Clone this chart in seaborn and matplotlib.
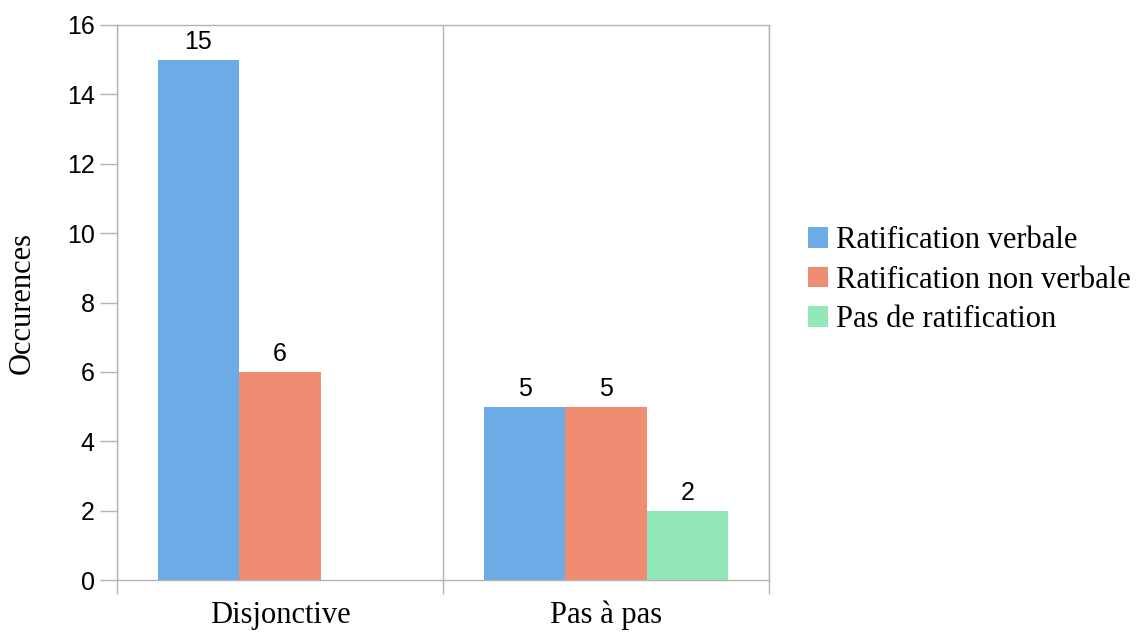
import pandas as pd
import seaborn as sns
import matplotlib.pyplot as plt
from matplotlib.patches import Patch

# Données
categories = ["Disjonctive", "Disjonctive", "Pas à pas", "Pas à pas", "Pas à pas"]
types = ["Ratification verbale", "Ratification non verbale",
         "Ratification verbale", "Ratification non verbale", "Pas de ratification"]
occurences = [15, 6, 5, 5, 2]

ordre_types = ["Ratification verbale", "Ratification non verbale", "Pas de ratification"]
couleurs = ["#6CABE6", "#EE8D72", "#93E8B8"]

df = pd.DataFrame({"categorie": categories, "type": types, "occurences": occurences})

sns.set_style("white")
plt.rcParams["font.family"] = ["Liberation Sans", "DejaVu Sans"]
plt.rcParams["text.color"] = "black"
plt.rcParams["axes.labelcolor"] = "black"
plt.rcParams["xtick.color"] = "black"
plt.rcParams["ytick.color"] = "black"

fig = plt.figure(figsize=(11.39, 6.32), dpi=100)
ax = fig.add_axes([117 / 1139, 1 - 580 / 632, 652 / 1139, 555 / 632])

sns.barplot(data=df, x="categorie", y="occurences", hue="type",
            hue_order=ordre_types, palette=couleurs, width=0.75, gap=0,
            saturation=1, linewidth=0, ax=ax, legend=False)

for c in ax.containers:
    ax.bar_label(c, fontsize=18, padding=4, color="black")

ax.set_ylim(0, 16)
ax.set_xlim(-0.5, 1.5)
ax.set_yticks(range(0, 17, 2))
ax.set_xticks([0, 1])
ax.set_xticks([-0.5, 0.5, 1.5], minor=True)
ax.set_xticklabels(["Disjonctive", "Pas à pas"], family="Liberation Serif", fontsize=22)
ax.tick_params(axis="x", which="major", length=0, pad=15, labelcolor="black")
ax.tick_params(axis="x", which="minor", bottom=True, length=10, color="#b3b3b3", width=1)
ax.tick_params(axis="y", left=True, length=12, color="#b3b3b3", width=1,
               labelsize=18, pad=4, labelcolor="black")
ax.grid(axis="x", which="minor", color="#b3b3b3", linewidth=1)
ax.set_axisbelow(True)

for s in ax.spines.values():
    s.set_color("#b3b3b3")
    s.set_linewidth(1)

ax.set_xlabel("")
ax.set_ylabel("Occurences", family="Liberation Serif", fontsize=22, labelpad=22,
              color="black")

poignees = [Patch(facecolor=c, edgecolor="none") for c in couleurs]
ax.legend(poignees, ordre_types, loc="center left", bbox_to_anchor=(1.06, 0.54),
          frameon=False, borderaxespad=0, borderpad=0, handlelength=0.65,
          handleheight=0.65, handletextpad=0.26, labelspacing=0.34,
          prop={"family": "Liberation Serif", "size": 22}, labelcolor="black")

plt.savefig("out.png", dpi=100)
